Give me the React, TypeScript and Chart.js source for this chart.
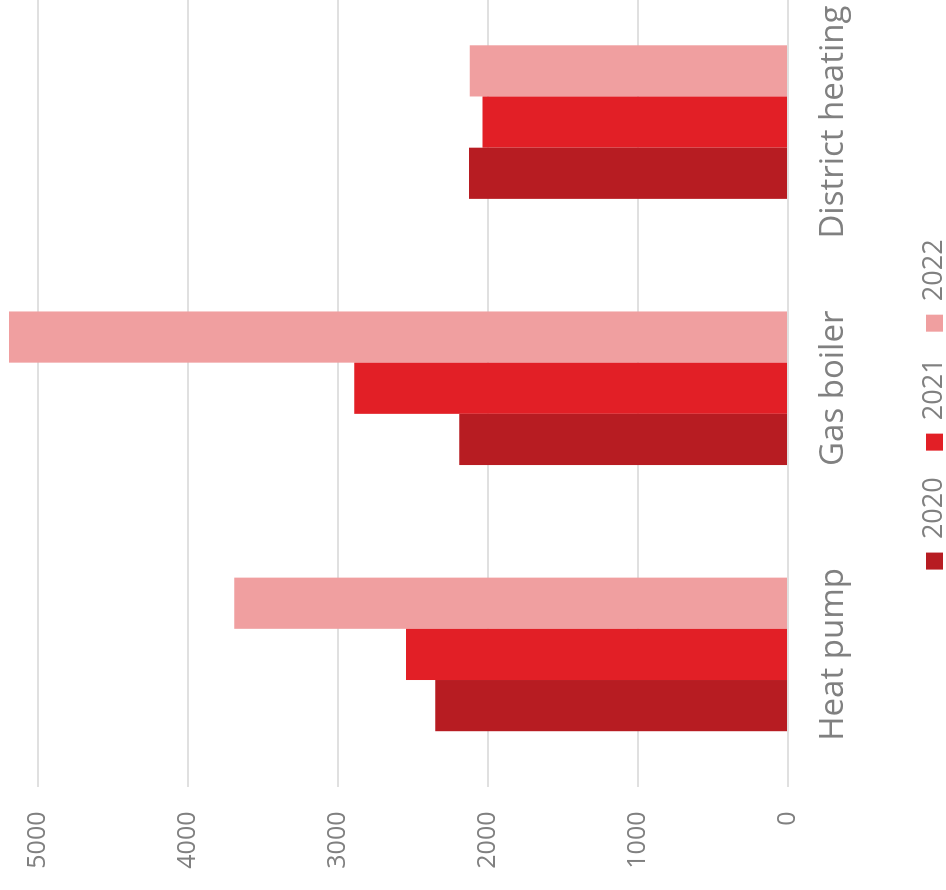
import React, { useEffect, useRef } from "react";
import { Chart, registerables } from "chart.js";

Chart.register(...registerables);

const categories = ["Heat pump", "Gas boiler", "District heating"];
const seriesNames = ["2020", "2021", "2022"];
const values2020 = [2350, 2190, 2125];
const values2021 = [2545, 2890, 2035];
const values2022 = [3690, 5190, 2120];
const seriesColors = ["#b71c22", "#e21f26", "#f09fa0"];
const tickValues = [0, 1000, 2000, 3000, 4000, 5000];
const valueMax = 5250;

// canvas in un-rotated frame; the whole chart is turned 90° counter-clockwise
const W = 882;
const H = 958;
const OFF_X = 0;
const OFF_Y = -11;
const LEGEND_SHIFT = 25.5;

const FONT = "'Open Sans', 'Noto Sans', sans-serif";
const GREY = "#808080";

const legendShift = {
  id: "legendShift",
  afterLayout(chart: any) {
    const l = chart.legend;
    if (l) {
      l.left += LEGEND_SHIFT;
      l.right += LEGEND_SHIFT;
    }
  },
};

export default function App() {
  const ref = useRef<HTMLCanvasElement | null>(null);

  useEffect(() => {
    if (!ref.current) return;
    const chart = new Chart(ref.current, {
      type: "bar",
      data: {
        labels: categories,
        datasets: [values2020, values2021, values2022].map((d, i) => ({
          label: seriesNames[i],
          data: d,
          backgroundColor: seriesColors[i],
          borderWidth: 0,
          categoryPercentage: 0.577,
          barPercentage: 1,
        })),
      },
      plugins: [legendShift],
      options: {
        animation: false,
        responsive: false,
        devicePixelRatio: 1,
        layout: { padding: 0 },
        plugins: {
          tooltip: { enabled: false },
          legend: {
            position: "bottom",
            align: "center",
            labels: {
              boxWidth: 17,
              boxHeight: 17,
              padding: 26.7,
              color: GREY,
              font: { family: FONT, size: 27 },
            },
          },
        },
        scales: {
          x: {
            grid: { display: false, drawTicks: false },
            border: { display: false },
            ticks: {
              color: GREY,
              font: { family: FONT, size: 33 },
              padding: 25.5,
              maxRotation: 0,
              minRotation: 0,
            },
            afterFit: (s: any) => {
              s.height = 106.3;
              s.paddingLeft = 0;
              s.paddingRight = 0;
            },
          },
          y: {
            min: 0,
            max: valueMax,
            afterBuildTicks: (s: any) => {
              s.ticks = tickValues.map((v) => ({ value: v }));
            },
            grid: { color: "#e0e0e0", lineWidth: 2, drawTicks: false },
            border: { display: false },
            ticks: {
              color: GREY,
              font: { family: FONT, size: 25 },
              padding: 24,
              callback: (v: any) => String(v),
            },
            afterFit: (s: any) => {
              s.width = 83.5;
              s.paddingTop = 0;
              s.paddingBottom = 0;
            },
          },
        },
      },
    });
    return () => chart.destroy();
  }, []);

  return (
    <div
      style={{
        position: "fixed",
        left: 0,
        top: 0,
        width: W,
        height: H,
        transformOrigin: "0 0",
        transform: `translate(${OFF_X}px, ${W + OFF_Y}px) rotate(-90deg)`,
      }}
    >
      <canvas ref={ref} width={W} height={H} style={{ width: W, height: H, display: "block" }} />
    </div>
  );
}
